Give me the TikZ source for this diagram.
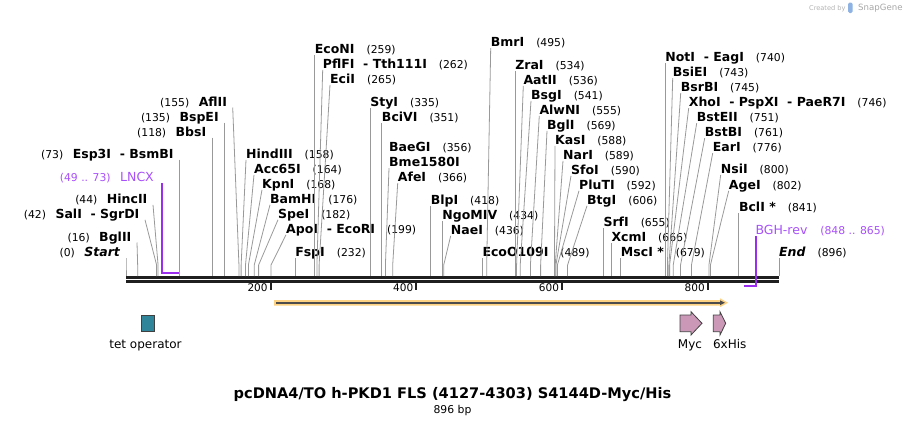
\documentclass[tikz,border=0pt]{standalone}
\usepackage{fontspec}
\setmainfont{DejaVu Sans}
\usetikzlibrary{arrows.meta}

\definecolor{primercol}{RGB}{155,45,240}
\definecolor{primertxt}{RGB}{168,80,250}
\definecolor{tetcol}{RGB}{49,133,155}
\definecolor{tagcol}{RGB}{203,153,183}
\definecolor{orfcol}{RGB}{253,210,130}

% x of a base pair on the map
\newcommand{\sx}[1]{126+0.7287*#1}
\newcommand{\pos}[1]{{\mdseries\fontsize{10.8}{12}\selectfont(#1)}}
% site labelled to the right: id, name, bp, x of line top, baseline
\newcommand{\cutR}[5]{%
  \coordinate (#1-t) at ({#4},{#5+1.5});
  \coordinate (#1-k) at ({\sx{#3}},265);
  \coordinate (#1-c) at ({\sx{#3}},276);
  \node[site,anchor=base west] (#1) at ({#4},{#5}) {\textbf{#2}\hspace{12pt}\pos{#3}};
  \draw[cut] (#1-t) -- (#1-k) -- (#1-c);}
% site labelled to the left
\newcommand{\cutL}[5]{%
  \coordinate (#1-t) at ({#4},{#5+1.5});
  \coordinate (#1-k) at ({\sx{#3}},265);
  \coordinate (#1-c) at ({\sx{#3}},276);
  \node[site,anchor=base east] (#1) at ({#4-5.5},{#5}) {\pos{#3}\hspace{9.5pt}\textbf{#2}};
  \draw[cut] (#1-t) -- (#1-k) -- (#1-c);}

\begin{document}
\begin{tikzpicture}[x=1pt,y=-1pt
    ,site/.style={inner sep=0pt, font=\fontsize{12.5}{14}\selectfont}
    ,cut/.style={draw=black!40, line width=0.8pt}
    ,primer/.style={draw=primercol, line width=2pt}
    ,backbone/.style={draw=black!88}
    ,tick/.style={draw=black!88, line width=2pt}
    ,feat/.style={draw=black!75, line width=0.8pt}
    ,flabel/.style={inner sep=0pt, font=\fontsize{12}{14}\selectfont, anchor=base}
  ]
  \useasboundingbox (0,0) rectangle (906,426);

  % credit
  \node[inner sep=0pt, anchor=base west, text=black!30, font=\fontsize{6.6}{8}\selectfont] (credit) at (809,10) {Created by};
  \fill[cyan!55!blue!45, rounded corners=1.5pt] (848,2.5) rectangle (852.5,13);
  \node[inner sep=0pt, anchor=base west, text=black!35, font=\fontsize{8.6}{10}\selectfont] (snapgene) at (858,10.5) {SnapGene};

  % backbone
  \draw[backbone, line width=3.3pt] (126,277.6) -- (779,277.6);
  \draw[backbone, line width=2.7pt] (126,281.4) -- (779,281.4);
  \foreach \t in {200,400,600,800} {
    \draw[tick] ({\sx{\t}-1},283) -- ({\sx{\t}-1},289.5);
    \node[inner sep=0pt, anchor=base east, font=\fontsize{10.5}{12}\selectfont] (tick\t) at ({\sx{\t}-4},291.7) {\t};
  }

  % sites on the left
  \cutL{start}{\textit{Start}}{0}{\sx{0}}{256.5}
  \cutL{bglII}{BglII}{16}{137}{241}
  \cutL{salI}{SalI\ \ - SgrDI}{42}{145}{218.3}
  \cutL{hincII}{HincII}{44}{153}{203.3}
  \cutL{esp3I}{Esp3I\ \ - BsmBI}{73}{\sx{73}}{158}
  \cutL{bbsI}{BbsI}{118}{\sx{118}}{136}
  \cutL{bspEI}{BspEI}{135}{\sx{135}}{121}
  \cutL{aflII}{AflII}{155}{232.7}{106}

  % LNCX primer
  \node[site, anchor=base east, text=primertxt] (lncx) at (154,181.7) {\pos{49 .. 73}\hspace{9.5pt}LNCX};
  \coordinate (lncx-t) at ({\sx{49}},183);
  \coordinate (lncx-a) at ({\sx{49}},272.7);
  \coordinate (lncx-b) at ({\sx{73}},272.7);
  \draw[primer] (lncx-t) -- (lncx-a) -- (lncx-b);

  % sites on the right
  \cutR{hindIII}{HindIII}{158}{246}{158.3}
  \cutR{acc65I}{Acc65I}{164}{254}{173.3}
  \cutR{kpnI}{KpnI}{168}{262}{188.3}
  \cutR{bamHI}{BamHI}{176}{270}{203.3}
  \cutR{speI}{SpeI}{182}{278}{218.3}
  \cutR{apoI}{ApoI\ \ - EcoRI}{199}{286}{233.3}
  \cutR{fspI}{FspI}{232}{\sx{232}}{256.5}
  \cutR{ecoNI}{EcoNI}{259}{\sx{259}}{53.3}
  \cutR{pflFI}{PflFI\ \ - Tth111I}{262}{322.7}{68.3}
  \cutR{eciI}{EciI}{265}{330}{83.3}
  \cutR{styI}{StyI}{335}{\sx{335}}{106.7}
  \cutR{bciVI}{BciVI}{351}{\sx{351}}{121.7}
  \node[site, anchor=base west] (baeGI) at (389,151.7) {\textbf{BaeGI}\hspace{12pt}\pos{356}};
  \coordinate (bme-t) at (389,168.2);
  \coordinate (bme-k) at ({\sx{356}},265);
  \coordinate (bme-c) at ({\sx{356}},276);
  \node[site, anchor=base west] (bme) at (389,166.7) {\textbf{Bme1580I}};
  \draw[cut] (bme-t) -- (bme-k) -- (bme-c);
  \cutR{afeI}{AfeI}{366}{397.7}{181.7}
  \cutR{blpI}{BlpI}{418}{\sx{418}}{204.3}
  \cutR{ngoMIV}{NgoMIV}{434}{\sx{434}}{219.3}
  \cutR{naeI}{NaeI}{436}{450.7}{234.3}
  \cutR{ecoO109I}{EcoO109I}{489}{\sx{489}}{256.5}
  \cutR{bmrI}{BmrI}{495}{490.7}{46.7}
  \cutR{zraI}{ZraI}{534}{\sx{534}}{69.3}
  \cutR{aatII}{AatII}{536}{523.3}{84.3}
  \cutR{bsgI}{BsgI}{541}{531}{99.3}
  \cutR{alwNI}{AlwNI}{555}{539.3}{114.3}
  \cutR{bglI}{BglI}{569}{547}{129.3}
  \cutR{kasI}{KasI}{588}{555}{144.3}
  \cutR{narI}{NarI}{589}{563}{159.3}
  \cutR{sfoI}{SfoI}{590}{571}{174.3}
  \cutR{pluTI}{PluTI}{592}{579}{189.3}
  \cutR{btgI}{BtgI}{606}{587}{204.3}
  \cutR{srfI}{SrfI}{655}{\sx{655}}{226.7}
  \cutR{xcmI}{XcmI}{666}{\sx{666}}{241.7}
  \cutR{mscI}{MscI *}{679}{\sx{679}}{256.5}
  \cutR{notI}{NotI\ \ - EagI}{740}{\sx{740}}{61.7}
  \cutR{bsiEI}{BsiEI}{743}{672.7}{76.7}
  \cutR{bsrBI}{BsrBI}{745}{680.7}{91.7}
  \cutR{xhoI}{XhoI\ \ - PspXI\ \ - PaeR7I}{746}{688.7}{106.7}
  \cutR{bstEII}{BstEII}{751}{696.7}{121.7}
  \cutR{bstBI}{BstBI}{761}{704.7}{136.7}
  \cutR{earI}{EarI}{776}{712.7}{151.7}
  \cutR{nsiI}{NsiI}{800}{720.7}{173.3}
  \cutR{ageI}{AgeI}{802}{728.7}{189.3}
  \cutR{bclI}{BclI *}{841}{\sx{841}}{211.7}
  \cutR{end}{\textit{End}}{896}{\sx{896}}{256.5}

  % BGH-rev primer
  \node[site, anchor=base west, text=primertxt] (bgh) at (755.3,234) {BGH-rev\hspace{13pt}\pos{848 .. 865}};
  \coordinate (bgh-t) at ({\sx{865}},236);
  \coordinate (bgh-a) at ({\sx{865}},286);
  \coordinate (bgh-b) at ({\sx{848}},286);
  \draw[primer] (bgh-t) -- (bgh-a) -- (bgh-b);

  % features
  \fill[orfcol] (274,300) -- (720,300) -- (720,298.3) -- (728,302.7) -- (720,307.1) -- (720,305.5) -- (274,305.5) -- cycle;
  \draw[draw=black!70, line width=1.6pt, -{Triangle[length=5pt,width=4.5pt]}] (276,302.7) -- (725,302.7);
  \draw[feat, fill=tetcol] (141,315) rectangle (154.7,331.7);
  \node[flabel] (tet) at (145.5,348.3) {tet operator};
  \draw[feat, fill=tagcol] (680,315) -- (691,315) -- (691,311.7) -- (702,323.3) -- (691,335) -- (691,331.7) -- (680,331.7) -- cycle;
  \node[flabel] (myc) at (690,348.3) {Myc};
  \draw[feat, fill=tagcol] (713.3,315) -- (720,315) -- (720,311.7) -- (725.7,323.3) -- (720,335) -- (720,331.7) -- (713.3,331.7) -- cycle;
  \node[flabel] (his) at (729.7,348.3) {6xHis};

  % title
  \node[inner sep=0pt, anchor=base, font=\bfseries\fontsize{14.6}{16}\selectfont] (title) at (452.5,398.5) {pcDNA4/TO h-PKD1 FLS (4127-4303) S4144D-Myc/His};
  \node[inner sep=0pt, anchor=base, font=\fontsize{10.8}{12}\selectfont] (size) at (452.5,413.5) {896 bp};
\end{tikzpicture}
\end{document}
